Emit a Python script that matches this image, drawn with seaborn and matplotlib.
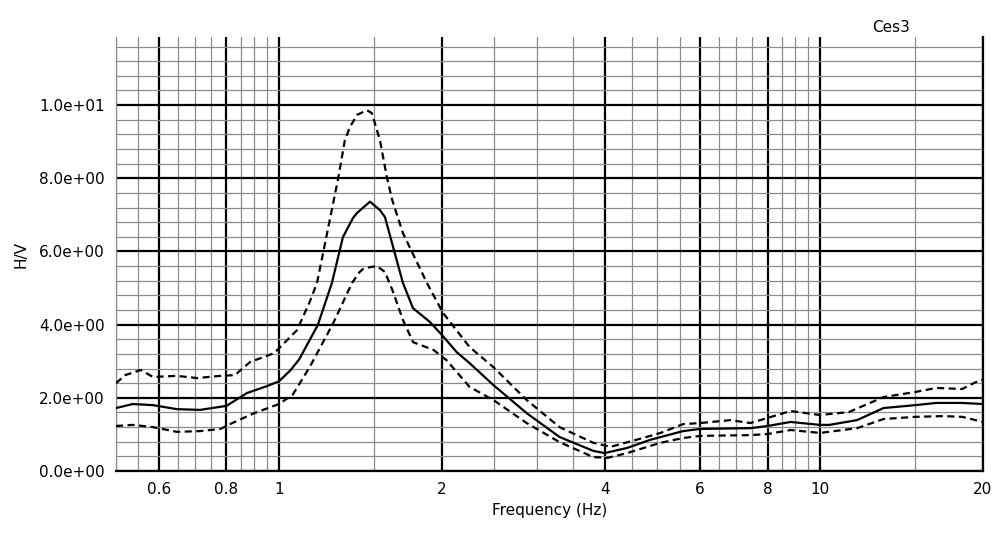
import numpy as np
import pandas as pd
import matplotlib
matplotlib.use("Agg")
import matplotlib.pyplot as plt
import seaborn as sns
from matplotlib.ticker import FixedLocator, NullFormatter, FixedFormatter

# ---- data ----
freq_mean = [0.5, 0.537, 0.585, 0.648, 0.715, 0.8, 0.873, 0.95, 1.0, 1.05, 1.09, 1.18,
             1.253, 1.313, 1.37, 1.394, 1.473, 1.537, 1.57, 1.695, 1.769, 1.902, 2.0, 2.13,
             2.25, 2.49, 2.87, 3.3, 3.81, 4.0, 4.4, 4.85, 5.58, 6.0, 7.43, 8.0, 8.82, 10.0,
             10.4, 11.7, 13.1, 15.0, 16.4, 18.3, 20.0]
hv_mean = [1.72, 1.83, 1.80, 1.69, 1.67, 1.78, 2.13, 2.32, 2.45, 2.75, 3.05, 3.99,
           5.14, 6.39, 6.91, 7.05, 7.36, 7.13, 6.94, 5.14, 4.45, 4.07, 3.72, 3.25,
           2.95, 2.35, 1.58, 0.93, 0.55, 0.49, 0.63, 0.85, 1.09, 1.15, 1.17, 1.23, 1.34, 1.26,
           1.26, 1.39, 1.72, 1.80, 1.86, 1.86, 1.83]

freq_upper = [0.5, 0.52, 0.556, 0.585, 0.648, 0.706, 0.78, 0.829, 0.885, 0.98, 1.08, 1.14,
              1.176, 1.285, 1.324, 1.353, 1.394, 1.454, 1.485, 1.537, 1.583, 1.62, 1.695,
              1.877, 2.01, 2.25, 2.49, 2.87, 3.3, 3.81, 4.1, 4.7, 5.07, 5.58, 6.0, 6.83,
              7.43, 8.0, 8.82, 10.0, 11.3, 13.1, 15.0, 16.4, 18.3, 19.4, 20.0]
hv_upper = [2.40, 2.62, 2.76, 2.57, 2.60, 2.54, 2.60, 2.62, 2.98, 3.22, 3.85, 4.62,
            5.14, 7.95, 9.04, 9.40, 9.73, 9.86, 9.78, 9.04, 8.03, 7.40, 6.50,
            5.14, 4.32, 3.39, 2.84, 1.94, 1.20, 0.77, 0.66, 0.90, 1.04, 1.28, 1.31, 1.39,
            1.31, 1.45, 1.64, 1.53, 1.61, 2.02, 2.16, 2.27, 2.24, 2.43, 2.49]

freq_lower = [0.5, 0.537, 0.585, 0.648, 0.715, 0.78, 0.82, 0.9, 1.0, 1.06, 1.14, 1.26,
              1.365, 1.41, 1.43, 1.473, 1.517, 1.57, 1.62, 1.695, 1.77, 1.93, 2.04, 2.25,
              2.49, 2.87, 3.3, 3.81, 4.05, 4.4, 5.07, 5.58, 6.0, 7.43, 8.0, 8.82, 10.0,
              11.7, 13.1, 15.0, 16.9, 18.3, 20.0]
hv_lower = [1.23, 1.26, 1.20, 1.07, 1.09, 1.15, 1.31, 1.58, 1.83, 2.08, 2.84, 4.04,
            5.14, 5.44, 5.52, 5.57, 5.60, 5.44, 4.95, 4.13, 3.52, 3.31, 3.03, 2.30,
            1.94, 1.31, 0.79, 0.38, 0.36, 0.49, 0.77, 0.90, 0.96, 0.98, 1.01, 1.12, 1.04,
            1.17, 1.42, 1.48, 1.50, 1.48, 1.34]

x_major = [0.6, 0.8, 1, 2, 4, 6, 8, 10, 20]
x_major_labels = ["0.6", "0.8", "1", "2", "4", "6", "8", "10", "20"]
x_minor = [0.5, 0.55, 0.65, 0.7, 0.75, 0.85, 0.9, 0.95, 1.5, 2.5, 3, 3.5, 4.5, 5, 5.5,
           6.5, 7, 7.5, 8.5, 9, 9.5, 15]
y_major = [0, 2, 4, 6, 8, 10]
y_major_labels = ["0.0e+00", "2.0e+00", "4.0e+00", "6.0e+00", "8.0e+00", "1.0e+01"]
y_minor = [0.4, 0.8, 1.2, 1.6, 2.4, 2.8, 3.2, 3.6, 4.4, 4.8, 5.2, 5.6, 6.4, 6.8, 7.2, 7.6,
           8.4, 8.8, 9.2, 9.6, 10.4, 10.8, 11.2, 11.6]
title = "Ces3"

# ---- plot ----
sns.set_style("white")
plt.rcParams["font.family"] = ["DejaVu Sans"]
plt.rcParams["text.color"] = "black"
plt.rcParams["axes.labelcolor"] = "black"
plt.rcParams["xtick.color"] = "black"
plt.rcParams["ytick.color"] = "black"

fig = plt.figure(figsize=(10.02, 5.38), dpi=100)
ax = fig.add_axes([116 / 1002, 1 - 471 / 538, (983 - 116) / 1002, (471 - 37) / 538])

df_m = pd.DataFrame({"f": freq_mean, "hv": hv_mean})
df_u = pd.DataFrame({"f": freq_upper, "hv": hv_upper})
df_l = pd.DataFrame({"f": freq_lower, "hv": hv_lower})

dash = (0, (3.2, 2.0))
sns.lineplot(data=df_m, x="f", y="hv", ax=ax, color="black", lw=1.6, estimator=None, zorder=5)
sns.lineplot(data=df_u, x="f", y="hv", ax=ax, color="black", lw=1.6, linestyle=dash,
             estimator=None, zorder=5)
sns.lineplot(data=df_l, x="f", y="hv", ax=ax, color="black", lw=1.6, linestyle=dash,
             estimator=None, zorder=5)

ax.set_xscale("log")
ax.set_xlim(0.5, 20)
ax.set_ylim(0, 11.86)

ax.xaxis.set_major_locator(FixedLocator(x_major))
ax.xaxis.set_major_formatter(FixedFormatter(x_major_labels))
ax.xaxis.set_minor_locator(FixedLocator(x_minor))
ax.xaxis.set_minor_formatter(NullFormatter())
ax.yaxis.set_major_locator(FixedLocator(y_major))
ax.yaxis.set_major_formatter(FixedFormatter(y_major_labels))
ax.yaxis.set_minor_locator(FixedLocator(y_minor))

ax.grid(which="major", color="black", lw=1.6)
ax.grid(which="minor", color="#8c8c8c", lw=0.9)
ax.set_axisbelow(True)

ax.spines["top"].set_visible(False)
ax.spines["left"].set_color("#8c8c8c")
ax.spines["left"].set_linewidth(0.9)
ax.spines["bottom"].set_color("black")
ax.spines["bottom"].set_linewidth(1.6)
ax.spines["right"].set_color("black")
ax.spines["right"].set_linewidth(1.6)

ax.tick_params(axis="both", which="major", labelsize=11, length=3, width=0.8,
               color="#8c8c8c", labelcolor="black", direction="out")
ax.tick_params(axis="x", which="major", pad=5)
ax.tick_params(axis="y", which="major", pad=5)
ax.tick_params(axis="both", which="minor", length=0)

ax.set_xlabel("Frequency (Hz)", fontsize=11, labelpad=4, color="black")
ax.set_ylabel("H/V", fontsize=11, labelpad=8, color="black")

fig.text(891 / 1002, 1 - 28 / 538, title, ha="center", va="center", fontsize=11,
         color="black")

fig.savefig("out.png", dpi=100)
